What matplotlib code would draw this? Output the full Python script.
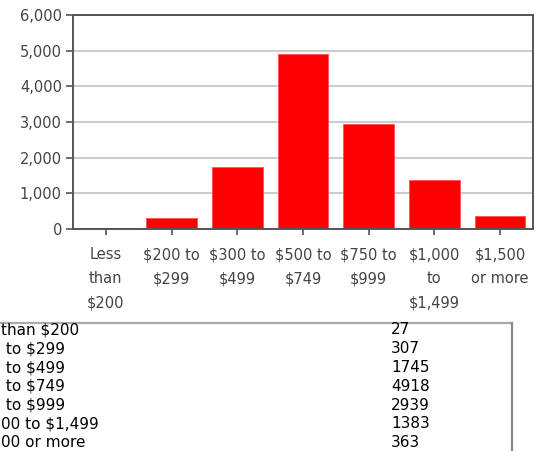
import matplotlib.pyplot as plt
from matplotlib.lines import Line2D

plt.rcParams['font.family'] = ['DejaVu Sans']
plt.rcParams['text.parse_math'] = False

categories = ['Less\nthan\n$200', '$200 to\n$299', '$300 to\n$499', '$500 to\n$749',
              '$750 to\n$999', '$1,000\nto\n$1,499', '$1,500\nor more']
# the table's first column is cut by the left edge of the picture
row_labels = ['than $200', ' to $299', ' to $499', ' to $749',
              ' to $999', '00 to $1,499', '00 or more']
counts = [27, 307, 1745, 4918, 2939, 1383, 363]
yticks = [0, 1000, 2000, 3000, 4000, 5000, 6000]

W, H = 538, 451
fig = plt.figure(figsize=(W / 100, H / 100), dpi=100)
ax = fig.add_axes([73 / W, 1 - 229 / H, 460 / W, 214 / H])

x = range(len(categories))
ax.bar(x, counts, width=0.77, color='#ff0000', edgecolor='#ff5050', linewidth=0.6, zorder=2)

ax.set_xlim(-0.5, len(categories) - 0.5)
ax.set_ylim(0, 6000)
ax.set_yticks(yticks)
ax.set_yticklabels([f'{v:,}' for v in yticks])
ax.set_xticks(list(x))
ax.set_xticklabels(categories, linespacing=1.75)
ax.yaxis.grid(True, color='#cccccc', linewidth=1.5)
ax.set_axisbelow(True)

for s in ax.spines.values():
    s.set_color('#555555')
    s.set_linewidth(1.4)
    s.set_zorder(4)
ax.tick_params(axis='y', length=5, width=1.2, color='#555555', labelsize=10.5,
               labelcolor='#444444', pad=3)
ax.tick_params(axis='x', length=4, width=1.2, color='#555555', labelsize=10.5,
               labelcolor='#444444', pad=9)

# table below the chart
row_y = [330, 348.8, 367.6, 386.4, 405.2, 424, 442.8]
for lab, val, py in zip(row_labels, counts, row_y):
    fig.text(1 / W, 1 - py / H, lab, fontsize=11, color='black', va='center', ha='left')
    fig.text(391 / W, 1 - py / H, str(val), fontsize=11, color='black', va='center', ha='left')

fig.add_artist(Line2D([0, 512 / W], [1 - 323 / H, 1 - 323 / H], color='#aaaaaa',
                      linewidth=1.6, transform=fig.transFigure))
fig.add_artist(Line2D([512 / W, 512 / W], [1 - 323 / H, 0], color='#888888',
                      linewidth=1.6, transform=fig.transFigure))

fig.savefig('out.png', dpi=100)
